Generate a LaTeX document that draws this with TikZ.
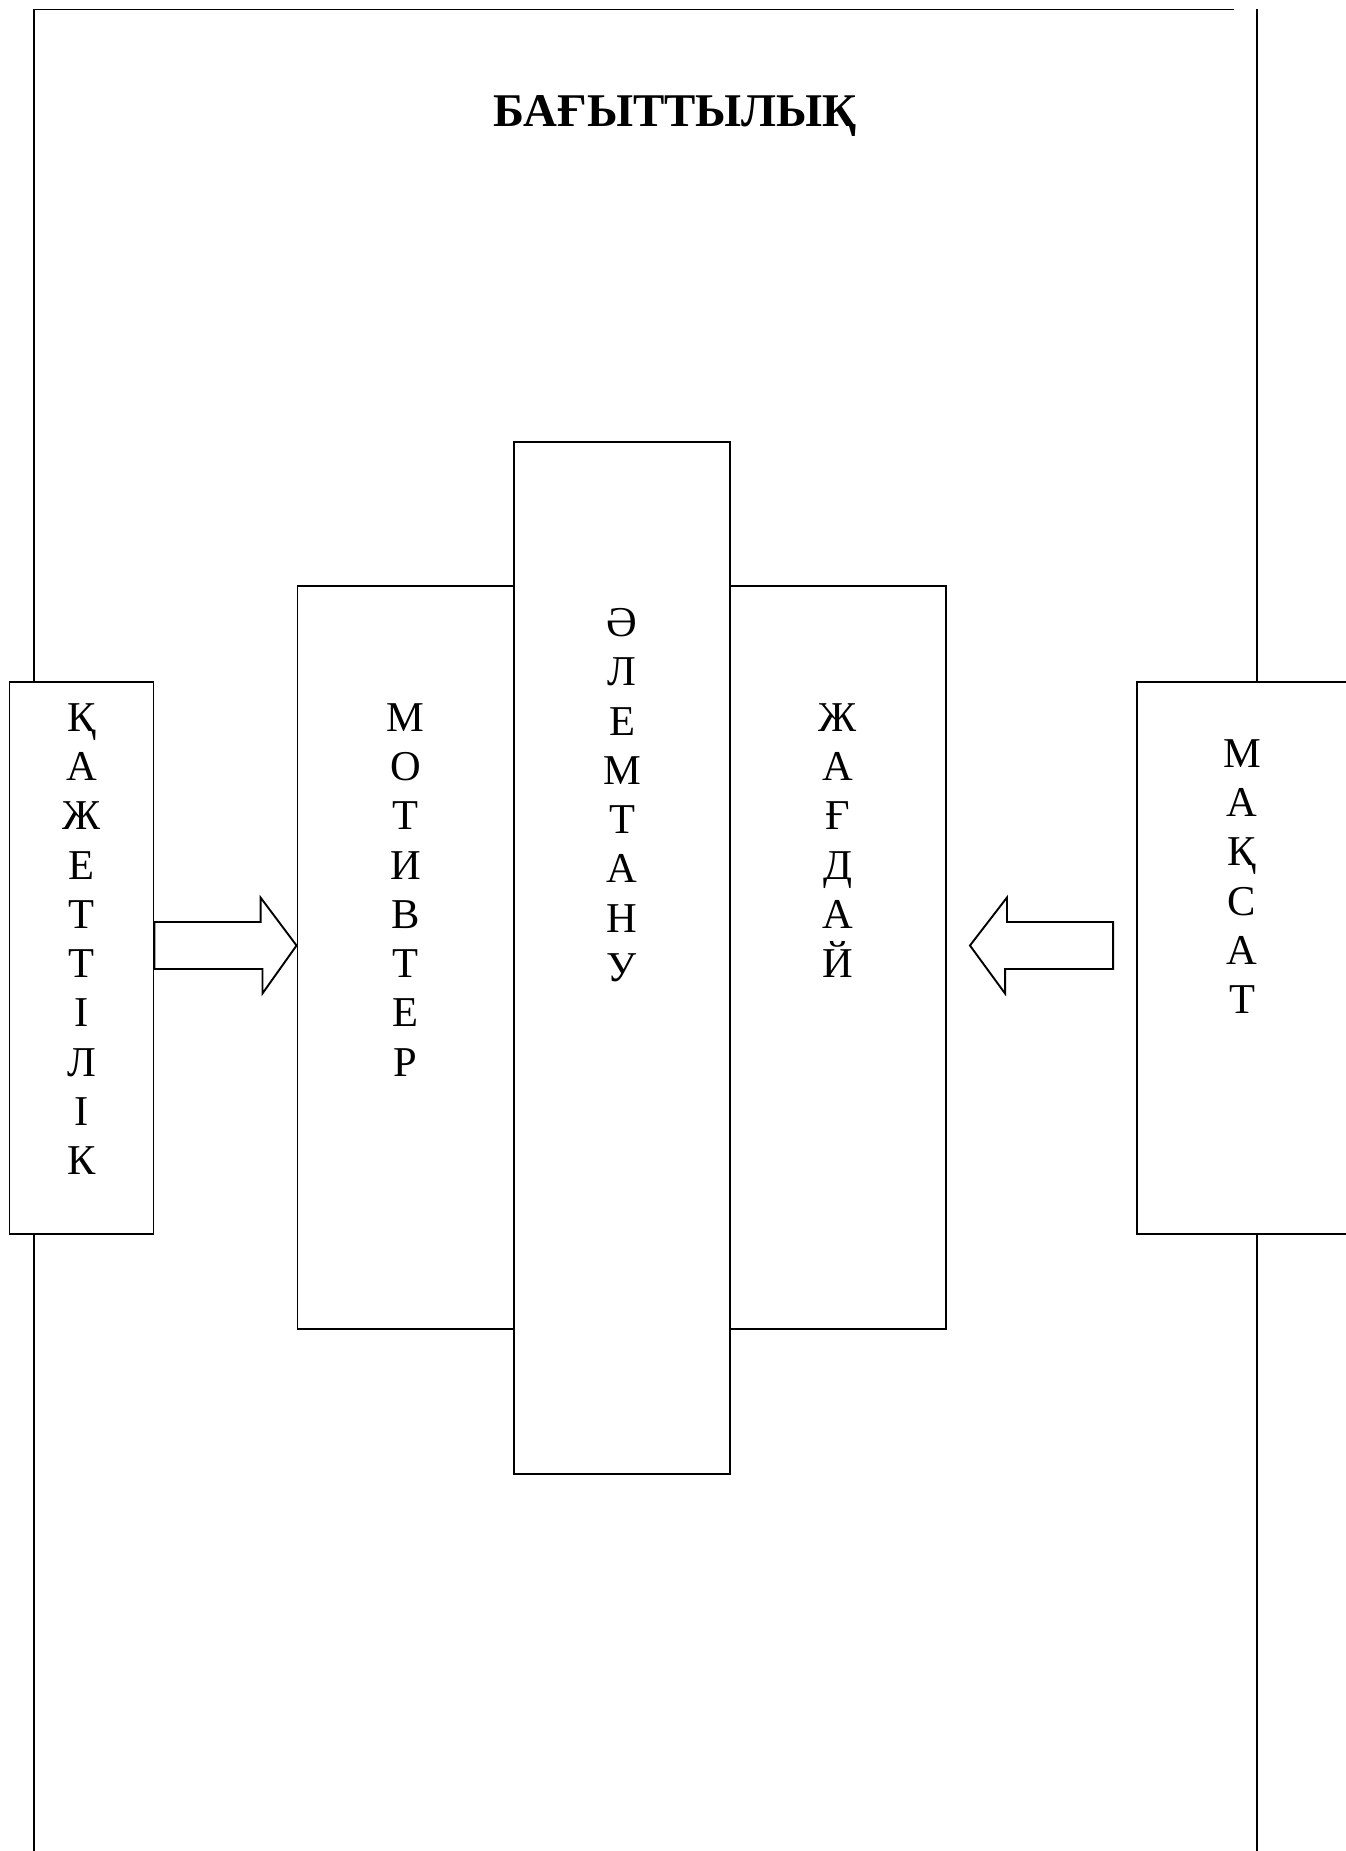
\documentclass[tikz,border=0pt]{standalone}
\usepackage{fontspec}
\setmainfont{Liberation Serif}
\usetikzlibrary{calc}

\newcommand*{\px}{0.012cm}

\begin{document}
\begin{tikzpicture}
[
	x=\px, y=-\px,
	box/.style={draw,fill=white,line width=0.65pt,inner sep=0pt},
	letters/.style={align=center,inner sep=0pt,anchor=north,font=\fontsize{14.5}{16.8}\selectfont},
	blockarrow/.style={draw,fill=white,line width=0.65pt,line join=miter}
]

	\useasboundingbox (0,0) rectangle (1346,1851);

	% frame
	\draw[line width=0.65pt] (34,1851) -- (34,9.5) -- (1234,9.5);
	\draw[line width=0.65pt] (1257,9.5) -- (1257,1851);

	\node[font=\fontsize{16}{19}\selectfont\bfseries,anchor=base] (title) at (675,127) {БАҒЫТТЫЛЫҚ};

	% boxes
	\node[box,minimum width=144*\px,minimum height=552*\px] (need) at (81.5,958) {};
	\node[box,minimum width=216.5*\px,minimum height=743*\px] (mot) at (405.75,957.5) {};
	\node[box,minimum width=216*\px,minimum height=743*\px] (cond) at (838,957.5) {};
	\node[box,minimum width=216*\px,minimum height=1032*\px] (world) at (622,958) {};
	\node[box,minimum width=212*\px,minimum height=552*\px] (goal) at (1243,958) {};

	% texts
	\node[letters] (needtxt) at (81.5,703) {Қ\\А\\Ж\\Е\\Т\\Т\\І\\Л\\І\\К};
	\node[letters] (mottxt) at (405.5,703) {М\\О\\Т\\И\\В\\Т\\Е\\Р};
	\node[letters] (worldtxt) at (622,608) {Ә\\Л\\Е\\М\\Т\\А\\Н\\У};
	\node[letters] (condtxt) at (838,703) {Ж\\А\\Ғ\\Д\\А\\Й};
	\node[letters] (goaltxt) at (1242,739) {М\\А\\Қ\\С\\А\\Т};

	% arrows
	\coordinate (ntip) at ($(mot.west)+(0,-12)$);
	\draw[blockarrow] (ntip) -- ++(-36,-48) -- ++(0,24.5) -- ($(need.east)+(0,-36)$)
		-- ++(0,47) -- ++(108,0) -- ++(0,24.5) -- cycle;

	\coordinate (gtip) at ($(cond.east)+(23,-12)$);
	\draw[blockarrow] (gtip) -- ++(37,-48) -- ++(0,24.5) -- ($(goal.west)+(-23,-36)$)
		-- ++(0,47) -- ++(-108,0) -- ++(0,24.5) -- cycle;

\end{tikzpicture}
\end{document}
